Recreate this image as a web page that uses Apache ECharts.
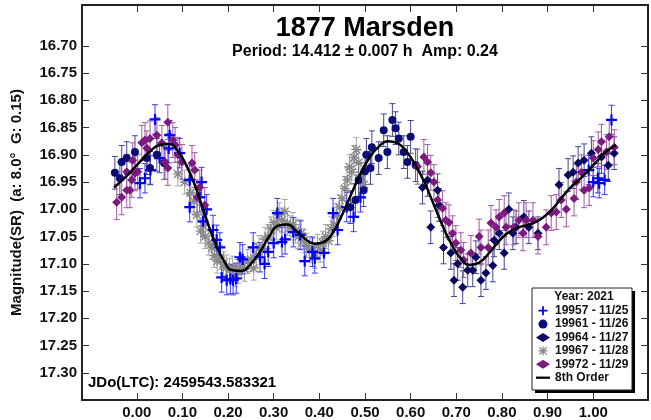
<!DOCTYPE html>
<html>
<head>
<meta charset="utf-8">
<script src="https://cdn.jsdelivr.net/npm/echarts@6/dist/echarts.min.js"></script>
<style>
  html, body { margin: 0; padding: 0; background: #fff; }
  #chart { width: 651px; height: 420px; }
</style>
</head>
<body>
<div id="chart"></div>
<script>
var FONT = '"Liberation Sans", Arial, sans-serif';

var xTicks = [0.00, 0.10, 0.20, 0.30, 0.40, 0.50, 0.60, 0.70, 0.80, 0.90, 1.00];
var yTicks = [16.70, 16.75, 16.80, 16.85, 16.90, 16.95, 17.00, 17.05, 17.10, 17.15, 17.20, 17.25, 17.30];

// [phase, magnitude]
var s19957 = [
  [0.007,16.952],[0.018,16.943],[0.030,16.928],[0.040,16.835],[0.050,16.906],[0.070,16.888],[0.072,16.864],
  [0.094,16.897],[0.116,16.946],[0.116,16.996],[0.138,16.978],[0.142,16.950],[0.145,17.022],[0.153,17.000],
  [0.167,17.038],[0.175,17.056],[0.182,17.070],[0.186,17.125],[0.197,17.130],[0.205,17.128],[0.211,17.130],
  [0.218,17.127],[0.226,17.088],[0.232,17.092],[0.255,17.070],[0.270,17.088],[0.280,17.100],[0.288,17.078],
  [0.300,17.062],[0.308,17.007],[0.318,17.060],[0.325,17.055],[0.343,17.042],[0.358,17.047],[0.368,17.095],
  [0.385,17.078],[0.390,17.090],[0.410,17.080],[0.430,17.007],[0.440,17.038],[0.460,16.996],[0.475,17.014],
  [0.490,16.978],[0.990,16.928],[1.000,16.950],[1.010,16.943],[1.013,16.952],[1.025,16.946],[1.040,16.836]
];
var s19961 = [
  [-0.048,16.933],[-0.037,16.943],[-0.033,16.913],[-0.022,16.906],[-0.004,16.895],[0.022,16.906],[0.029,16.924],
  [0.044,16.900],[0.060,16.915],[0.468,16.996],[0.479,16.983],[0.486,16.946],[0.497,16.965],[0.500,16.930],
  [0.503,16.900],[0.512,16.924],[0.515,16.886],[0.530,16.906],[0.541,16.855],[0.549,16.895],[0.560,16.836],
  [0.567,16.851],[0.574,16.870],[0.585,16.895],[0.593,16.913],[0.600,16.867],[0.611,16.919]
];
var s19964 = [
  [0.626,16.960],[0.637,16.946],[0.644,17.033],[0.659,16.965],[0.662,16.992],[0.672,17.070],[0.688,17.080],
  [0.695,17.130],[0.703,17.100],[0.714,17.143],[0.725,17.112],[0.736,17.112],[0.743,17.088],[0.754,17.130],
  [0.765,17.117],[0.780,17.103],[0.783,17.057],[0.794,17.044],[0.805,17.080],[0.815,17.000],[0.824,17.044],
  [0.831,17.033],[0.848,17.014],[0.859,17.033],[0.879,17.044],[0.925,16.955],[0.945,16.937],[0.956,16.932],
  [0.967,16.915],[0.980,16.910],[0.996,16.897],[1.018,16.904],[1.033,16.919],[1.046,16.897]
];
var s19967 = [
  [0.090,16.935],[0.105,16.950],[0.118,16.970],[0.125,16.985],[0.132,17.010],[0.140,17.040],[0.146,17.030],
  [0.150,17.050],[0.158,17.062],[0.165,17.070],[0.170,17.085],[0.176,17.095],[0.183,17.088],[0.190,17.100],
  [0.196,17.106],[0.203,17.112],[0.210,17.108],[0.216,17.120],[0.222,17.114],[0.229,17.104],[0.236,17.110],
  [0.243,17.096],[0.250,17.092],[0.256,17.108],[0.262,17.084],[0.268,17.070],[0.275,17.075],[0.281,17.055],
  [0.288,17.050],[0.294,17.036],[0.300,17.024],[0.306,17.034],[0.312,17.010],[0.318,17.020],[0.324,17.004],
  [0.330,17.026],[0.336,17.034],[0.342,17.028],[0.348,17.040],[0.354,17.050],[0.360,17.044],[0.366,17.058],
  [0.372,17.066],[0.378,17.072],[0.384,17.076],[0.390,17.086],[0.396,17.068],[0.402,17.075],[0.408,17.062],
  [0.414,17.050],[0.420,17.058],[0.426,17.036],[0.432,17.028],[0.438,17.012],[0.444,16.996],[0.450,16.980],
  [0.456,16.962],[0.461,16.946],[0.466,16.922],[0.471,16.932],[0.476,16.905],[0.481,16.890],[0.486,16.914],
  [0.491,16.938],[0.497,16.955]
];
var s19972 = [
  [-0.044,16.987],[-0.033,16.978],[-0.022,16.965],[-0.015,16.965],[-0.022,16.931],[-0.011,16.946],[-0.004,16.934],
  [0.002,16.931],[-0.009,16.910],[0.011,16.878],[0.018,16.873],[0.022,16.888],[0.029,16.870],[0.044,16.864],
  [0.055,16.878],[0.062,16.913],[0.068,16.840],[0.068,16.924],[0.079,16.873],[0.084,16.882],[0.090,16.900],
  [0.099,16.913],[0.121,16.915],[0.127,16.928],[0.132,16.978],[0.138,16.960],[0.149,16.992],
  [0.615,16.922],[0.629,16.904],[0.637,16.913],[0.644,16.933],[0.651,16.950],[0.659,16.983],[0.670,16.998],
  [0.677,17.020],[0.684,17.024],[0.692,17.044],[0.699,17.062],[0.710,17.075],[0.716,17.093],[0.732,17.080],
  [0.750,17.050],[0.754,17.070],[0.770,17.070],[0.776,17.025],[0.787,17.033],[0.794,17.014],[0.805,17.007],
  [0.809,17.033],[0.826,17.033],[0.837,17.020],[0.846,17.044],[0.853,17.020],[0.868,17.020],[0.879,17.050],
  [0.897,17.033],[0.908,17.007],[0.919,17.005],[0.930,16.983],[0.941,17.000],[0.958,16.980],[0.963,16.950],
  [0.974,16.932],[0.980,16.965],[0.991,16.961],[1.000,16.906],[1.011,16.890],[1.018,16.876],[1.029,16.895],
  [1.035,16.867],[1.046,16.886]
];

// 8th order fit
var fitPhase = [-0.05,-0.03,-0.01,0.01,0.03,0.05,0.07,0.09,0.11,0.13,0.15,0.17,0.19,0.21,0.23,0.25,0.27,0.29,0.31,
  0.33,0.35,0.37,0.39,0.41,0.43,0.45,0.47,0.49,0.51,0.53,0.55,0.57,0.59,0.61,0.63,0.65,0.67,0.69,0.71,0.73,0.75,
  0.77,0.79,0.81,0.83,0.85,0.87,0.89,0.91,0.93,0.95,0.97,0.99,1.01,1.03,1.05];
var fitMag = [16.960,16.945,16.928,16.910,16.893,16.882,16.880,16.893,16.922,16.962,17.012,17.058,17.093,17.112,
  17.113,17.100,17.078,17.050,17.030,17.028,17.040,17.055,17.063,17.060,17.042,17.010,16.972,16.935,16.905,16.885,
  16.875,16.878,16.893,16.918,16.950,16.990,17.030,17.065,17.090,17.102,17.098,17.082,17.062,17.045,17.035,17.030,
  17.025,17.015,17.000,16.980,16.960,16.945,16.928,16.910,16.893,16.882];

var PLUS = 'path://M4,0h2v4h4v2h-4v4h-2v-4h-4v-2h4z';
var STAR = 'path://M4.3,0h1.4v4.3h4.3v1.4h-4.3v4.3h-1.4v-4.3h-4.3v-1.4h4.3z' +
  'M1.5,0.5L5,4L8.5,0.5L9.5,1.5L6,5L9.5,8.5L8.5,9.5L5,6L1.5,9.5L0.5,8.5L4,5L0.5,1.5z';
var BAR = 'path://M0,0h20v3.2h-20z';

var sessions = [
  { name: '19967 - 11/28', data: s19967, symbol: STAR, size: 10, color: '#8a8a8a', bar: '#a6a6a6', err: 0.022 },
  { name: '19957 - 11/25', data: s19957, symbol: PLUS, size: 11, color: '#0000ff', bar: '#3a3aff', err: 0.027 },
  { name: '19961 - 11/26', data: s19961, symbol: 'circle', size: 8, color: '#0c0c78', bar: '#45458f', err: 0.03 },
  { name: '19964 - 11/27', data: s19964, symbol: 'diamond', size: 9, color: '#08085e', bar: '#45458f', err: 0.03 },
  { name: '19972 - 11/29', data: s19972, symbol: 'diamond', size: 9, color: '#7d1a7d', bar: '#a35aa3', err: 0.032 }
];

function errorBars(s) {
  return {
    type: 'custom',
    name: s.name + ' err',
    data: s.data,
    encode: { x: 0, y: 1 },
    silent: true,
    z: 1,
    renderItem: function (params, api) {
      var x = api.value(0), y = api.value(1);
      var a = api.coord([x, y - s.err]);
      var b = api.coord([x, y + s.err]);
      var st = { stroke: s.bar, lineWidth: 1 };
      return {
        type: 'group',
        children: [
          { type: 'line', shape: { x1: a[0], y1: a[1], x2: b[0], y2: b[1] }, style: st },
          { type: 'line', shape: { x1: a[0] - 3, y1: a[1], x2: a[0] + 3, y2: a[1] }, style: st },
          { type: 'line', shape: { x1: b[0] - 3, y1: b[1], x2: b[0] + 3, y2: b[1] }, style: st }
        ]
      };
    }
  };
}

var series = [];
sessions.forEach(function (s) { series.push(errorBars(s)); });
sessions.forEach(function (s) {
  series.push({
    type: 'scatter',
    name: s.name,
    data: s.data,
    symbol: s.symbol,
    symbolSize: s.size,
    itemStyle: { color: s.color, opacity: 1 },
    z: 3
  });
});
series.push({
  type: 'line',
  name: '8th Order',
  data: fitPhase.map(function (p, i) { return [p, fitMag[i]]; }),
  smooth: true,
  symbol: 'none',
  itemStyle: { color: '#000' },
  lineStyle: { color: '#000', width: 2.5 },
  z: 5
});

var axisLine = { show: true, onZero: false, lineStyle: { color: '#222', width: 2 } };
var tickStyle = { lineStyle: { color: '#333', width: 1 } };

var chart = echarts.init(document.getElementById('chart'));
chart.setOption({
  animation: false,
  backgroundColor: '#fff',
  grid: { left: 82, right: 3, top: 5, bottom: 20, containLabel: false, outerBoundsMode: 'none' },
  xAxis: [{
    type: 'value', position: 'bottom', min: -0.12, max: 1.12,
    axisLine: axisLine,
    axisTick: { show: true, inside: true, length: 7, customValues: xTicks, lineStyle: tickStyle.lineStyle },
    axisLabel: {
      customValues: xTicks, margin: 5,
      formatter: function (v) { return v.toFixed(2); },
      fontFamily: FONT, fontWeight: 'bold', fontSize: 15, color: '#111'
    },
    splitLine: { show: false }
  }, {
    type: 'value', position: 'top', min: -0.12, max: 1.12,
    axisLine: axisLine,
    axisTick: { show: true, inside: true, length: 7, customValues: xTicks, lineStyle: tickStyle.lineStyle },
    axisLabel: { show: false },
    splitLine: { show: false }
  }],
  yAxis: [{
    type: 'value', position: 'left', inverse: true, min: 16.625, max: 17.35,
    name: 'Magnitude(SR)  (a: 8.0°  G: 0.15)',
    nameLocation: 'middle', nameGap: 58,
    nameTextStyle: { fontFamily: FONT, fontWeight: 'bold', fontSize: 15, color: '#111' },
    axisLine: axisLine,
    axisTick: { show: true, inside: true, length: 7, customValues: yTicks, lineStyle: tickStyle.lineStyle },
    axisLabel: {
      customValues: yTicks, margin: 5,
      formatter: function (v) { return v.toFixed(2); },
      fontFamily: FONT, fontWeight: 'bold', fontSize: 15, color: '#111'
    },
    splitLine: { show: false }
  }, {
    type: 'value', position: 'right', inverse: true, min: 16.625, max: 17.35,
    axisLine: axisLine,
    axisTick: { show: true, inside: true, length: 7, customValues: yTicks, lineStyle: tickStyle.lineStyle },
    axisLabel: { show: false },
    splitLine: { show: false }
  }],
  legend: {
    orient: 'vertical', left: 536, top: 304, padding: 0, z: 20,
    itemWidth: 14, itemHeight: 9, itemGap: 0,
    data: ['19957 - 11/25', '19961 - 11/26', '19964 - 11/27', '19967 - 11/28', '19972 - 11/29',
      { name: '8th Order', icon: BAR }],
    textStyle: { fontFamily: FONT, fontWeight: 'bold', fontSize: 12, lineHeight: 13.4, color: '#111' },
    selectedMode: false
  },
  graphic: [
    { type: 'text', x: 365, y: 29, z: 10,
      style: { text: '1877 Marsden', textAlign: 'center', textVerticalAlign: 'middle',
        font: 'bold 27px ' + FONT, fill: '#000' } },
    { type: 'text', x: 365, y: 52, z: 10,
      style: { text: 'Period: 14.412 \u00b1 0.007 h  Amp: 0.24', textAlign: 'center', textVerticalAlign: 'middle',
        font: 'bold 16px ' + FONT, fill: '#000' } },
    { type: 'text', x: 88, y: 383, z: 10,
      style: { text: 'JDo(LTC): 2459543.583321', textAlign: 'left', textVerticalAlign: 'middle',
        font: 'bold 15px ' + FONT, fill: '#000' } },
    { type: 'rect', shape: { x: 535, y: 291, width: 100, height: 102 }, style: { fill: '#000' }, z: 8 },
    { type: 'rect', shape: { x: 532, y: 288, width: 100, height: 102 },
      style: { fill: '#fff', stroke: '#222', lineWidth: 1 }, z: 9 },
    { type: 'text', x: 584, y: 297, z: 10,
      style: { text: 'Year: 2021', textAlign: 'center', textVerticalAlign: 'middle',
        font: 'bold 12px ' + FONT, fill: '#111' } }
  ],
  series: series
});
</script>
</body>
</html>
